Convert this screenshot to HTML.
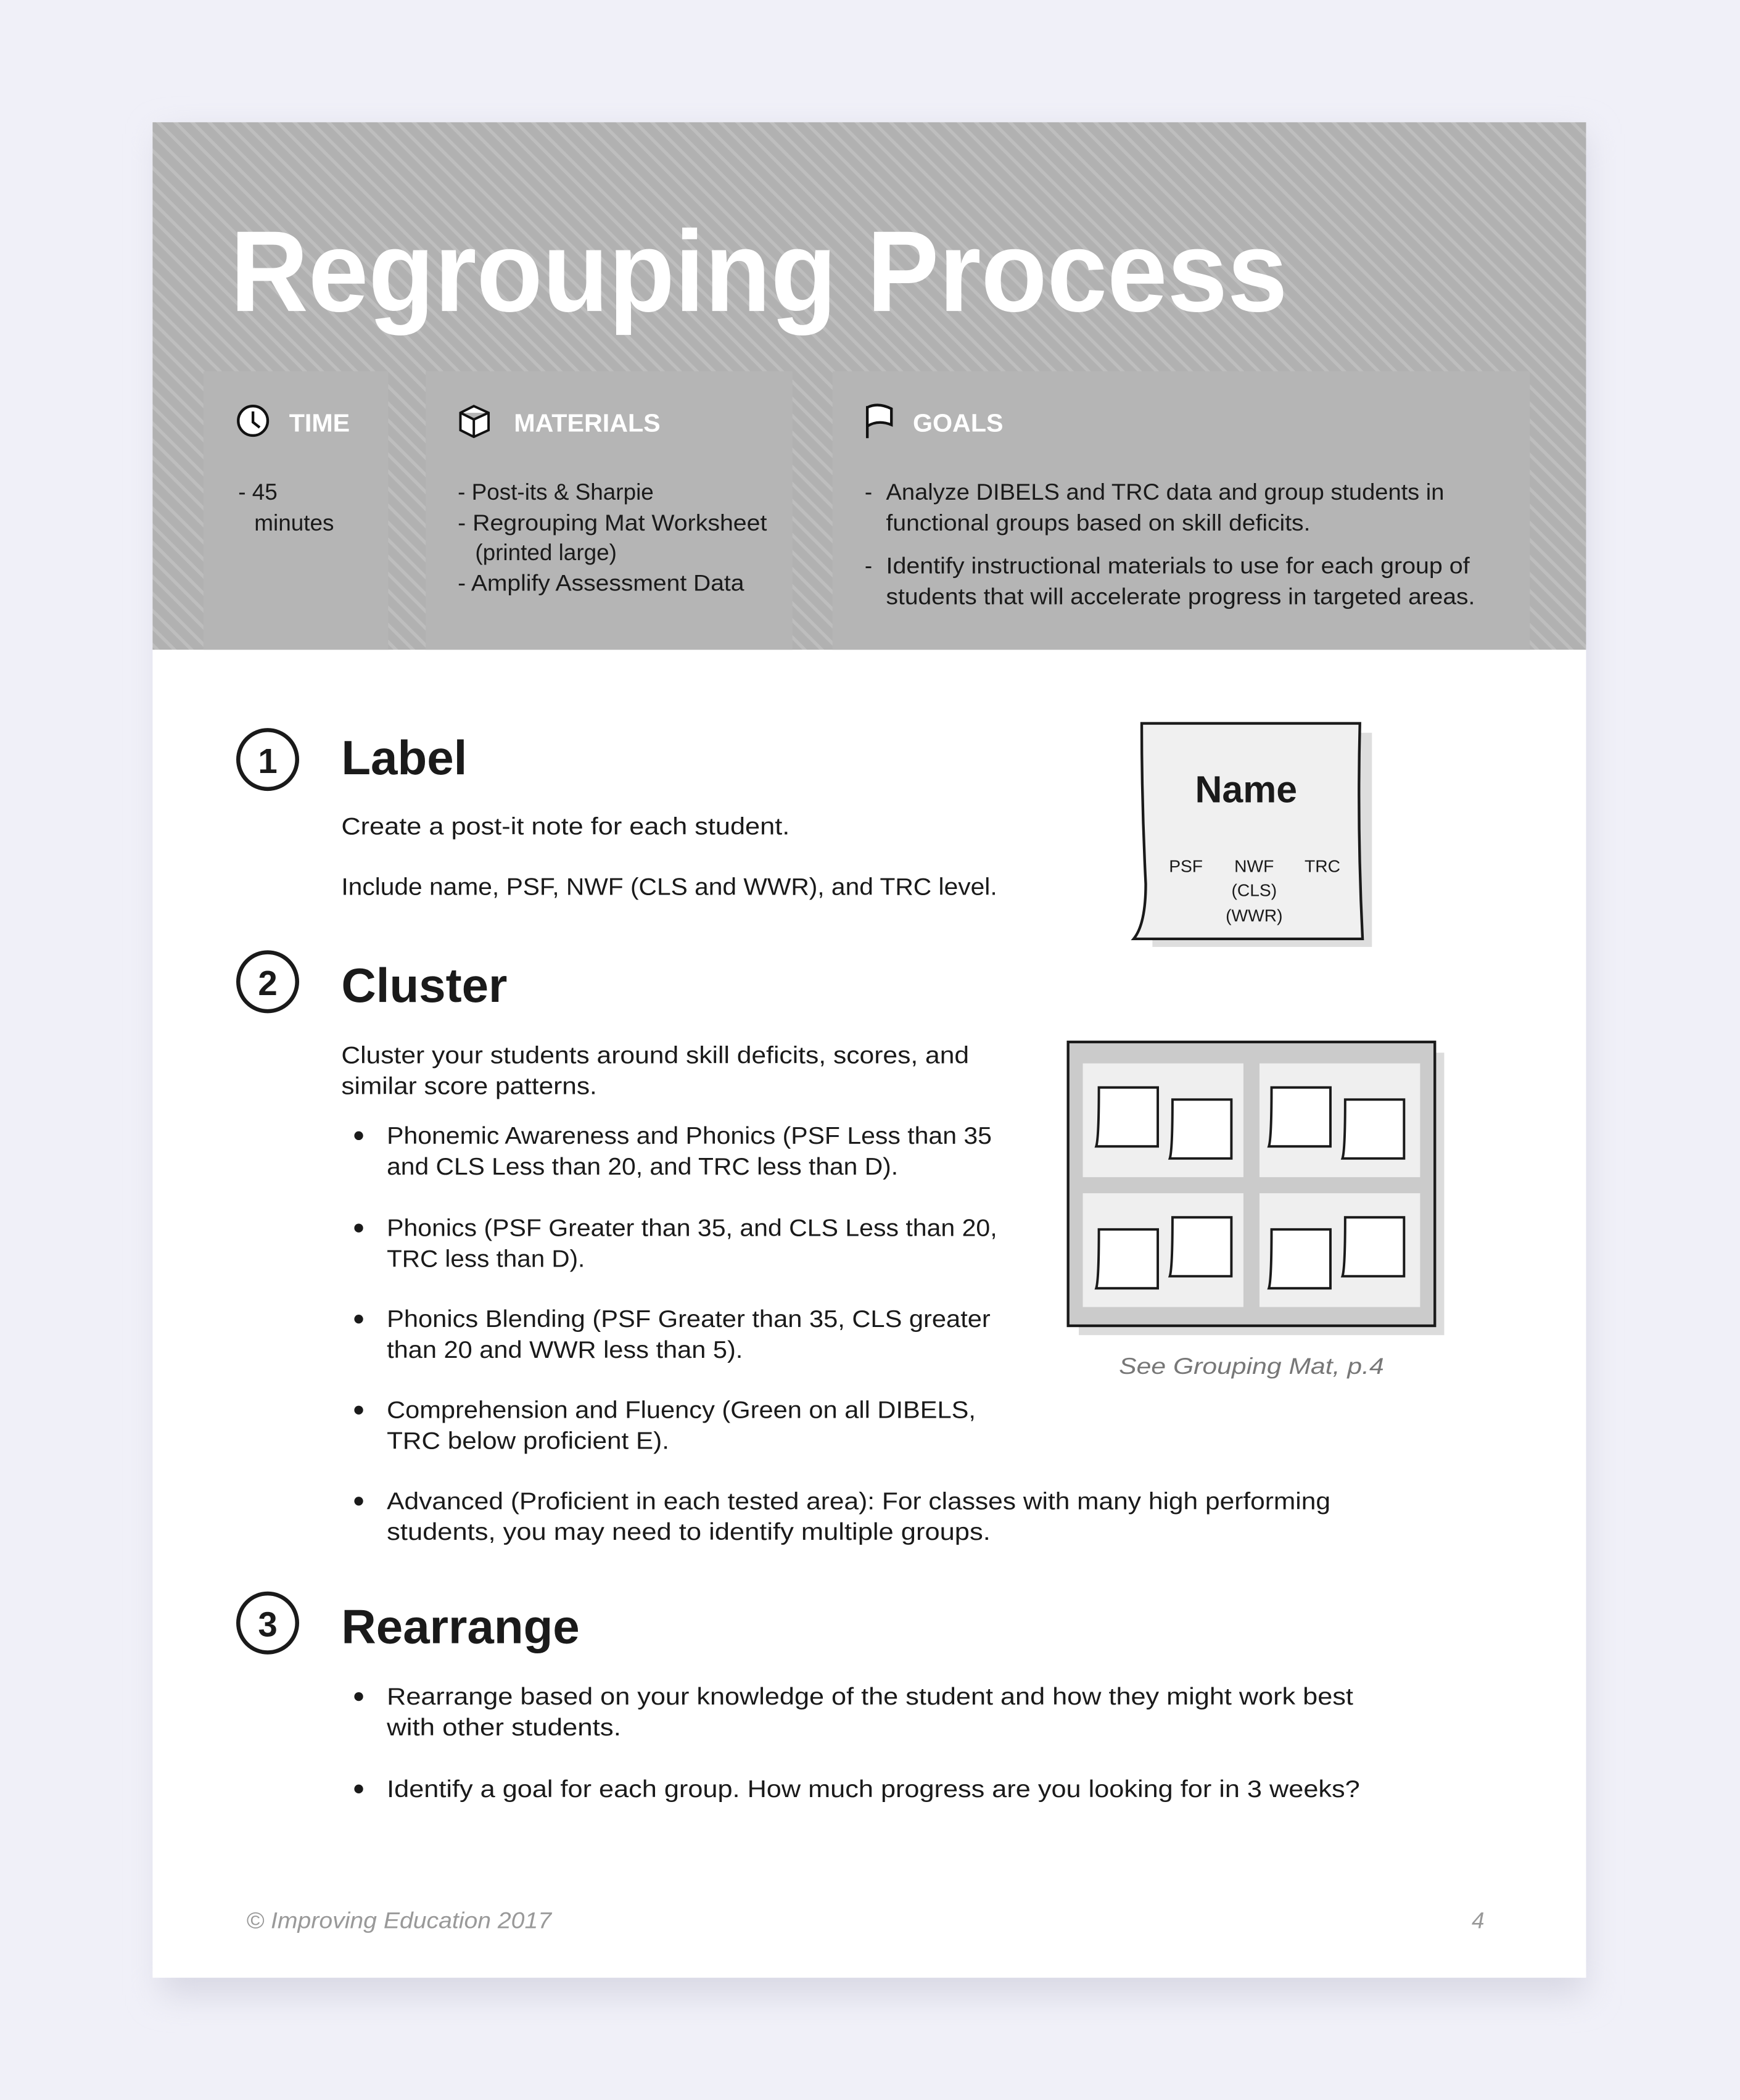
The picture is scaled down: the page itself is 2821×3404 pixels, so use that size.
<!DOCTYPE html>
<html><head><meta charset="utf-8"><style>
html,body{margin:0;padding:0;background:#f0f0f8;}
svg{display:block;}
text{font-family:"Liberation Sans",sans-serif;}
</style></head><body>
<svg width="2821" height="3404" viewBox="0 0 1300 1568" xmlns="http://www.w3.org/2000/svg">
<defs>
<pattern id="st" patternUnits="userSpaceOnUse" width="9" height="9" patternTransform="rotate(-45)">
<rect width="9" height="9" fill="#b1b1b1"/>
<rect width="2.5" height="9" fill="#bebebe"/>
</pattern>
<filter id="sh" x="-10%" y="-10%" width="120%" height="120%"><feGaussianBlur stdDeviation="12"/></filter>
</defs>
<rect width="1300" height="1568" fill="#f0f0f8"/>
<rect x="120" y="100" width="1065" height="1390" fill="#d8d8e4" filter="url(#sh)"/>
<rect x="114" y="91" width="1071" height="1386" fill="#ffffff"/>
<rect x="114" y="91" width="1071" height="394" fill="url(#st)"/>
<text x="172" y="232" font-size="86" font-weight="bold" fill="#fff" textLength="790" lengthAdjust="spacingAndGlyphs">Regrouping Process</text>
<rect x="152" y="277" width="138" height="208" fill="#b5b5b5"/>
<rect x="318" y="277" width="274" height="208" fill="#b5b5b5"/>
<rect x="622" y="277" width="521" height="208" fill="#b5b5b5"/>
<circle cx="189" cy="314" r="11" fill="#fff" stroke="#111" stroke-width="2"/>
<path d="M189 307 V315 L194 319" fill="none" stroke="#111" stroke-width="2"/>
<path d="M344 308 L354 303 L365 308 L365 321 L354 326 L344 321 Z M344 308 L354 313 L365 308 M354 313 V326" fill="#fff" stroke="#111" stroke-width="1.8"/>
<path d="M648 303 V327 M648 304 Q656 300 666 305 V317 Q656 313 648 318" fill="#fff" stroke="#111" stroke-width="2"/>
<g font-size="19" font-weight="bold" fill="#fff">
<text x="216" y="322">TIME</text>
<text x="384" y="322">MATERIALS</text>
<text x="682" y="322">GOALS</text>
</g>
<g font-size="17" fill="#1a1a1a">
<text x="178" y="373">- 45</text>
<text x="190" y="396">minutes</text>
<text x="342" y="373">- Post-its &amp; Sharpie</text>
<text x="342" y="396" textLength="231" lengthAdjust="spacingAndGlyphs">- Regrouping Mat Worksheet</text>
<text x="355" y="418">(printed large)</text>
<text x="342" y="441" textLength="214" lengthAdjust="spacingAndGlyphs">- Amplify Assessment Data</text>
<text x="646" y="373">-</text>
<text x="662" y="373" textLength="417" lengthAdjust="spacingAndGlyphs">Analyze DIBELS and TRC data and group students in</text>
<text x="662" y="396" textLength="317" lengthAdjust="spacingAndGlyphs">functional groups based on skill deficits.</text>
<text x="646" y="428">-</text>
<text x="662" y="428" textLength="436" lengthAdjust="spacingAndGlyphs">Identify instructional materials to use for each group of</text>
<text x="662" y="451" textLength="440" lengthAdjust="spacingAndGlyphs">students that will accelerate progress in targeted areas.</text>
</g>
<g fill="none" stroke="#1a1a1a" stroke-width="3">
<circle cx="200" cy="567" r="22"/>
<circle cx="200" cy="733" r="22"/>
<circle cx="200" cy="1212" r="22"/>
</g>
<g font-size="26" font-weight="bold" fill="#1a1a1a" text-anchor="middle">
<text x="200" y="577">1</text><text x="200" y="743">2</text><text x="200" y="1222">3</text>
</g>
<g font-size="36" font-weight="bold" fill="#1a1a1a">
<text x="255" y="578">Label</text>
<text x="255" y="748">Cluster</text>
<text x="255" y="1227">Rearrange</text>
</g>
<g font-size="18" fill="#1a1a1a">
<text x="255" y="623" textLength="335" lengthAdjust="spacingAndGlyphs">Create a post-it note for each student.</text>
<text x="255" y="668" textLength="490" lengthAdjust="spacingAndGlyphs">Include name, PSF, NWF (CLS and WWR), and TRC level.</text>
<text x="255" y="794" textLength="469" lengthAdjust="spacingAndGlyphs">Cluster your students around skill deficits, scores, and</text>
<text x="255" y="817" textLength="191" lengthAdjust="spacingAndGlyphs">similar score patterns.</text>
<text x="289" y="854" textLength="452" lengthAdjust="spacingAndGlyphs">Phonemic Awareness and Phonics (PSF Less than 35</text>
<text x="289" y="877" textLength="382" lengthAdjust="spacingAndGlyphs">and CLS Less than 20, and TRC less than D).</text>
<text x="289" y="923" textLength="456" lengthAdjust="spacingAndGlyphs">Phonics (PSF Greater than 35, and CLS Less than 20,</text>
<text x="289" y="946" textLength="148" lengthAdjust="spacingAndGlyphs">TRC less than D).</text>
<text x="289" y="991" textLength="451" lengthAdjust="spacingAndGlyphs">Phonics Blending (PSF Greater than 35, CLS greater</text>
<text x="289" y="1014" textLength="266" lengthAdjust="spacingAndGlyphs">than 20 and WWR less than 5).</text>
<text x="289" y="1059" textLength="440" lengthAdjust="spacingAndGlyphs">Comprehension and Fluency (Green on all DIBELS,</text>
<text x="289" y="1082" textLength="211" lengthAdjust="spacingAndGlyphs">TRC below proficient E).</text>
<text x="289" y="1127" textLength="705" lengthAdjust="spacingAndGlyphs">Advanced (Proficient in each tested area): For classes with many high performing</text>
<text x="289" y="1150" textLength="451" lengthAdjust="spacingAndGlyphs">students, you may need to identify multiple groups.</text>
<text x="289" y="1273" textLength="722" lengthAdjust="spacingAndGlyphs">Rearrange based on your knowledge of the student and how they might work best</text>
<text x="289" y="1296" textLength="175" lengthAdjust="spacingAndGlyphs">with other students.</text>
<text x="289" y="1342" textLength="727" lengthAdjust="spacingAndGlyphs">Identify a goal for each group.  How much progress are you looking for in 3 weeks?</text>
</g>
<g fill="#1a1a1a">
<circle cx="268" cy="848" r="3.3"/><circle cx="268" cy="917" r="3.3"/><circle cx="268" cy="985" r="3.3"/>
<circle cx="268" cy="1053" r="3.3"/><circle cx="268" cy="1121" r="3.3"/><circle cx="268" cy="1267" r="3.3"/>
<circle cx="268" cy="1336" r="3.3"/>
</g>
<rect x="861" y="547" width="164" height="160" fill="#dedede"/>
<path d="M853 540 L1016 540 Q1014 620 1018 701 L847 701 Q856 690 856 660 Q853 600 853 540 Z" fill="#f0f0f0" stroke="#1a1a1a" stroke-width="2"/>
<text x="931" y="599" font-size="28" font-weight="bold" fill="#1a1a1a" text-anchor="middle">Name</text>
<g font-size="13" fill="#1a1a1a" text-anchor="middle" font-family="'Liberation Mono',monospace">
<text x="886" y="651">PSF</text><text x="937" y="651">NWF</text><text x="988" y="651">TRC</text>
<text x="937" y="669">(CLS)</text><text x="937" y="688">(WWR)</text>
</g>
<rect x="806" y="786" width="273" height="211" fill="#dcdcdc"/>
<rect x="798" y="778" width="274" height="212" fill="#cbcbcb" stroke="#1a1a1a" stroke-width="2"/>
<rect x="809" y="794" width="120" height="85" fill="#efefef"/>
<rect x="941" y="794" width="120" height="85" fill="#efefef"/>
<rect x="809" y="891" width="120" height="85" fill="#efefef"/>
<rect x="941" y="891" width="120" height="85" fill="#efefef"/>
<g fill="#fff" stroke="#1a1a1a" stroke-width="1.8">
<path d="M821 812 H865 V856 H819 Q821 850 821 812 Z"/>
<path d="M876 821 H920 V865 H874 Q876 859 876 821 Z"/>
<path d="M950 812 H994 V856 H948 Q950 850 950 812 Z"/>
<path d="M1005 821 H1049 V865 H1003 Q1005 859 1005 821 Z"/>
<path d="M821 918 H865 V962 H819 Q821 956 821 918 Z"/>
<path d="M876 909 H920 V953 H874 Q876 947 876 909 Z"/>
<path d="M950 918 H994 V962 H948 Q950 956 950 918 Z"/>
<path d="M1005 909 H1049 V953 H1003 Q1005 947 1005 909 Z"/>
</g>
<text x="935" y="1026" font-size="17" font-style="italic" fill="#777" text-anchor="middle" textLength="198" lengthAdjust="spacingAndGlyphs">See Grouping Mat, p.4</text>
<text x="184" y="1440" font-size="17" font-style="italic" fill="#999" textLength="228" lengthAdjust="spacingAndGlyphs">© Improving Education 2017</text>
<text x="1109" y="1440" font-size="17" font-style="italic" fill="#999" text-anchor="end">4</text>
</svg>
</body></html>
